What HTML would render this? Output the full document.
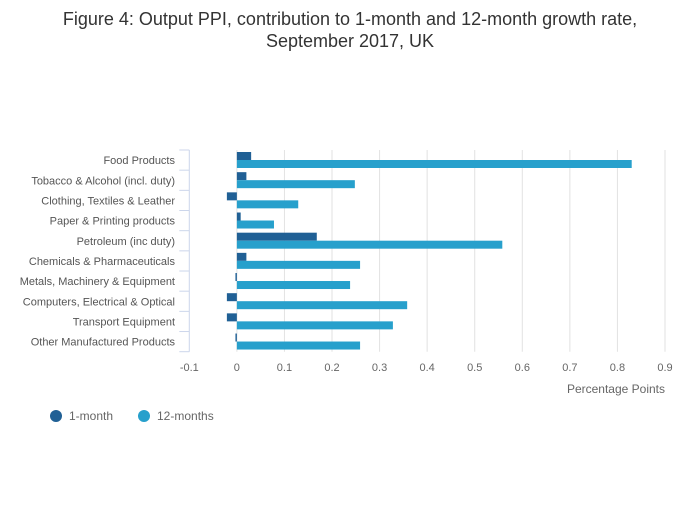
<!DOCTYPE html>
<html><head><meta charset="utf-8"><style>
body{margin:0;background:#fff;}
svg text{font-family:"Liberation Sans",sans-serif;}
</style></head><body>
<svg id="c" width="700" height="502" xmlns="http://www.w3.org/2000/svg">
<text x="350" y="25" text-anchor="middle" font-size="18" fill="#333">Figure 4: Output PPI, contribution to 1-month and 12-month growth rate,</text>
<text x="350" y="47" text-anchor="middle" font-size="18" fill="#333">September 2017, UK</text>
<g id="grid"></g><g id="bars"></g><g id="axes"></g>
<text x="665" y="393" text-anchor="end" font-size="12" fill="#666">Percentage Points</text>
<g>
<circle cx="56" cy="416" r="6" fill="#206095"/>
<text x="69" y="420" font-size="12" fill="#666">1-month</text>
<circle cx="144" cy="416" r="6" fill="#27a0cc"/>
<text x="157" y="420" font-size="12" fill="#666">12-months</text>
</g>
</svg>
<script>
const categories=["Food Products","Tobacco & Alcohol (incl. duty)","Clothing, Textiles & Leather","Paper & Printing products","Petroleum (inc duty)","Chemicals & Pharmaceuticals","Metals, Machinery & Equipment","Computers, Electrical & Optical","Transport Equipment","Other Manufactured Products"];
const oneMonth=[0.03,0.02,-0.021,0.008,0.168,0.02,-0.003,-0.021,-0.021,-0.003];
const twelveMonths=[0.83,0.248,0.129,0.078,0.558,0.259,0.238,0.358,0.328,0.259];
const xTicks=[-0.1,0,0.1,0.2,0.3,0.4,0.5,0.6,0.7,0.8,0.9];
const xTickLabels=["-0.1","0","0.1","0.2","0.3","0.4","0.5","0.6","0.7","0.8","0.9"];
const NS="http://www.w3.org/2000/svg";
const xL=189.3,xR=665,yTop=150,yBottom=351.7;
const xs=v=>xL+(v+0.1)/1.0*(xR-xL);
const band=(yBottom-yTop)/categories.length;
const ys=i=>yTop+i*band;
function mk(t,a,p){const e=document.createElementNS(NS,t);for(const k in a)e.setAttribute(k,a[k]);p.appendChild(e);return e;}
const g=document.getElementById('grid'),b=document.getElementById('bars'),ax=document.getElementById('axes');
xTicks.forEach((t,i)=>{
 if(i>0){const l=mk('line',{x1:xs(t),x2:xs(t),y1:yTop,y2:yBottom,stroke:'#e2e2e2','stroke-width':1},g);
 
 }
 const tx=mk('text',{x:xs(t),y:371,'text-anchor':'middle','font-size':11,fill:'#666'},ax);
 tx.textContent=xTickLabels[i];
 
 
});
const al=mk('line',{x1:xL,x2:xL,y1:yTop,y2:yBottom,stroke:'#ccd6eb','stroke-width':1},ax);


for(let i=0;i<=categories.length;i++){
 const tl=mk('line',{x1:xL-10,x2:xL,y1:ys(i),y2:ys(i),stroke:'#ccd6eb','stroke-width':1},ax);
 
 
}
categories.forEach((c,i)=>{
 const t=mk('text',{x:175,y:ys(i)+band/2+4,'text-anchor':'end','font-size':11,fill:'#555'},ax);
 t.textContent=c;
 
 
 const v1=oneMonth[i],v2=twelveMonths[i];
 const r1=mk('rect',{x:Math.min(xs(0),xs(v1)),y:ys(i)+2,width:Math.max(1,Math.abs(xs(v1)-xs(0))),height:8,fill:'#206095'},b);
 
 
 const r2=mk('rect',{x:Math.min(xs(0),xs(v2)),y:ys(i)+10,width:Math.max(1,Math.abs(xs(v2)-xs(0))),height:8,fill:'#27a0cc'},b);
 
 
});
</script>
</body></html>
